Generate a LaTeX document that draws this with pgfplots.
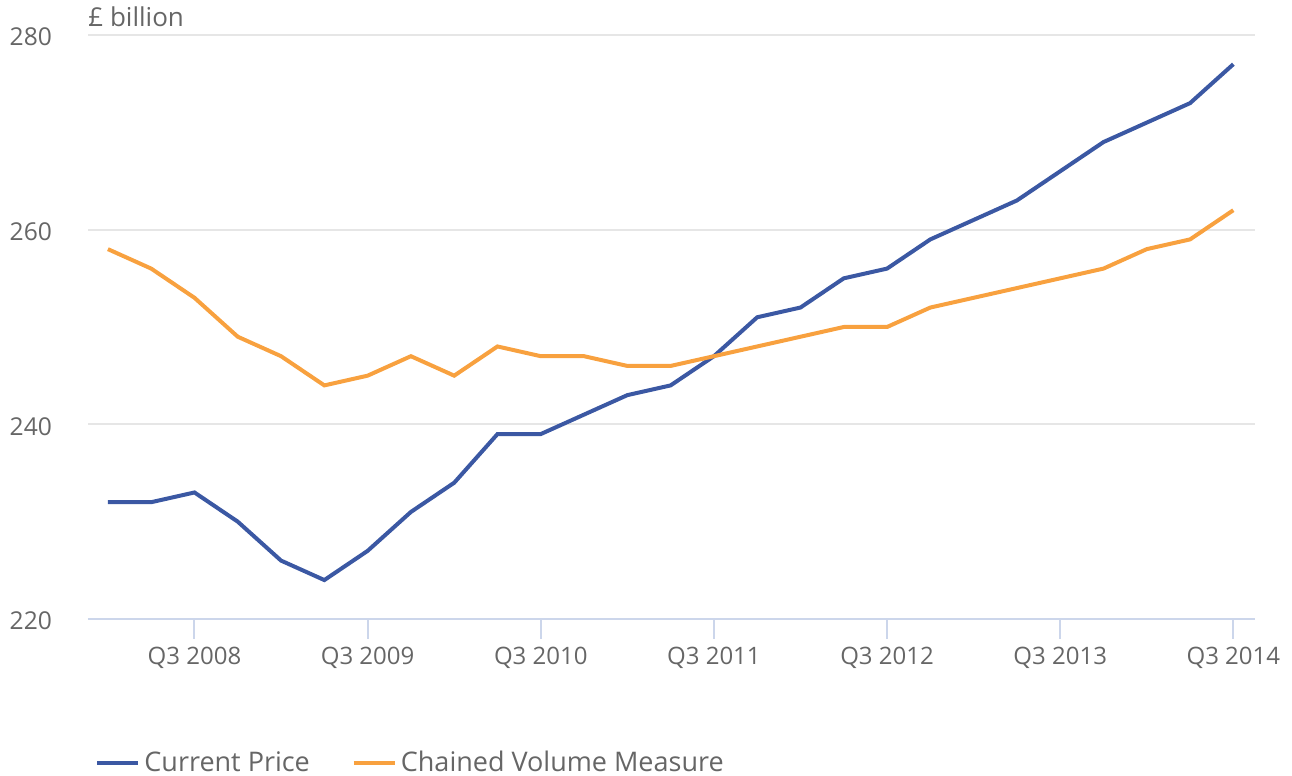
\documentclass[border=0pt]{standalone}
\usepackage{fontspec}
\setmainfont{Open Sans}
\usepackage{pgfplots}
\pgfplotsset{compat=1.18}
\definecolor{cpblue}{HTML}{3B58A3}
\definecolor{cvorange}{HTML}{F8A13F}
\definecolor{axisc}{HTML}{CCD6EB}
\definecolor{gridc}{HTML}{E6E6E6}
\definecolor{txt}{HTML}{666666}
\begin{document}
\begin{tikzpicture}
\begin{axis}[
  name=ax,
  scale only axis,
  width=583.5pt, height=292pt,
  xmin=-0.46, xmax=26.5,
  ymin=220, ymax=280,
  ytick={220,240,260,280},
  xtick={2,6,10,14,18,22,26},
  xticklabels={Q3 2008,Q3 2009,Q3 2010,Q3 2011,Q3 2012,Q3 2013,Q3 2014},
  axis x line*=bottom, axis y line*=left,
  x axis line style={draw=axisc, line width=1pt, -},
  y axis line style={draw=none},
  ymajorgrids, major grid style={draw=gridc, line width=1pt},
  ytick style={draw=none},
  xtick style={draw=axisc, line width=1pt},
  tick align=outside, major tick length=10pt,
  /pgf/number format/assume math mode=true,
  tick label style={font=\fontsize{12}{14}\selectfont, text=txt},
  yticklabel style={xshift=-4.5pt, yshift=-1pt, font=\fontsize{12.3}{14}\selectfont},
  xticklabel style={yshift=-0.5pt},
  legend columns=2,
  legend style={draw=none, fill=none, at={(0,0)}, anchor=north west, xshift=0.5pt, yshift=-62pt,
    font=\fontsize{13.5}{15}\selectfont, text=txt,
    /tikz/every even column/.append style={column sep=19pt},
    /tikz/every odd column/.append style={column sep=0pt}},
  legend image code/.code={\draw[#1, line width=2pt] (0cm,0cm) -- (18pt,0cm); \path (0,0) -- (20.5pt,0);},
]
\addplot[cpblue, line width=2pt] coordinates {
(0,232) (1,232) (2,233) (3,230) (4,226) (5,224) (6,227) (7,231) (8,234) (9,239)
(10,239) (11,241) (12,243) (13,244) (14,247) (15,251) (16,252) (17,255) (18,256)
(19,259) (20,261) (21,263) (22,266) (23,269) (24,271) (25,273) (26,277)};
\addlegendentry{Current Price}
\addplot[cvorange, line width=2pt] coordinates {
(0,258) (1,256) (2,253) (3,249) (4,247) (5,244) (6,245) (7,247) (8,245) (9,248)
(10,247) (11,247) (12,246) (13,246) (14,247) (15,248) (16,249) (17,250) (18,250)
(19,252) (20,253) (21,254) (22,255) (23,256) (24,258) (25,259) (26,262)};
\addlegendentry{Chained Volume Measure}
\end{axis}
\node[anchor=base west, inner sep=0pt, text=txt, font=\fontsize{13}{15}\selectfont] at ([yshift=4pt]ax.north west) {£ billion};
\pgfresetboundingbox
\useasboundingbox (-44pt,-78.5pt) rectangle (602pt,309.5pt);
\end{tikzpicture}
\end{document}
